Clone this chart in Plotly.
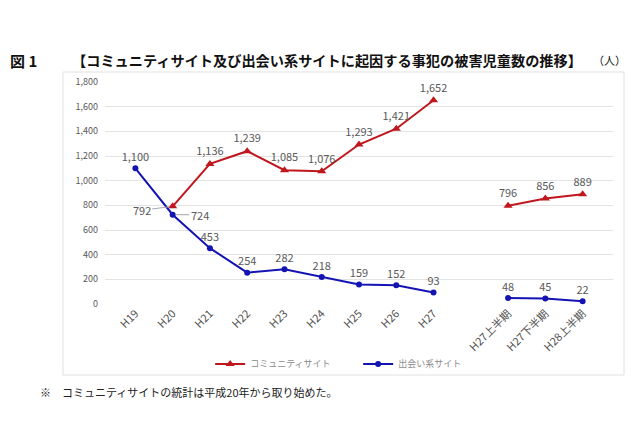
import plotly.graph_objects as go

categories = ["H19", "H20", "H21", "H22", "H23", "H24", "H25", "H26", "H27", " ",
              "H27上半期", "H27下半期", "H28上半期"]
community = [None, 792, 1136, 1239, 1085, 1076, 1293, 1421, 1652, None, 796, 856, 889]
deai = [1100, 724, 453, 254, 282, 218, 159, 152, 93, None, 48, 45, 22]
y_ticks = [0, 200, 400, 600, 800, 1000, 1200, 1400, 1600, 1800]

# labels drawn with a short leader line instead of directly above the point
leader_community = {1: (-31, 4)}
leader_deai = {1: (27, 0)}

def fmt(v):
    return "" if v is None else f"{v:,}"

FONT = "Noto Sans CJK JP"
LABEL_COLOR = "#595959"

fig = go.Figure()
fig.add_trace(go.Scatter(
    x=categories, y=community, name="コミュニティサイト",
    mode="lines+markers+text",
    text=["" if i in leader_community else fmt(v) for i, v in enumerate(community)],
    textposition="top center", textfont=dict(size=11, color=LABEL_COLOR),
    line=dict(color="#C0161D", width=2),
    marker=dict(symbol="triangle-up", size=8, color="#C0161D"),
    connectgaps=False, cliponaxis=False,
))
fig.add_trace(go.Scatter(
    x=categories, y=deai, name="出会い系サイト",
    mode="lines+markers+text",
    text=["" if i in leader_deai else fmt(v) for i, v in enumerate(deai)],
    textposition="top center", textfont=dict(size=11, color=LABEL_COLOR),
    line=dict(color="#1414B4", width=2),
    marker=dict(symbol="circle", size=6, color="#1414B4"),
    connectgaps=False, cliponaxis=False,
))

annotations = [
    dict(text="<b>図 1</b>", xref="paper", yref="paper", x=-0.191, y=1.099,
         xanchor="left", yanchor="middle", showarrow=False,
         font=dict(size=15, color="#111111", family=FONT)),
    dict(text="<b>【コミュニティサイト及び出会い系サイトに起因する事犯の被害児童数の推移】</b>",
         xref="paper", yref="paper", x=-0.069, y=1.099,
         xanchor="left", yanchor="middle", showarrow=False,
         font=dict(size=14.2, color="#111111", family=FONT)),
    dict(text="（人）", xref="paper", yref="paper", x=1.03, y=1.099,
         xanchor="right", yanchor="middle", showarrow=False,
         font=dict(size=11, color="#111111", family=FONT)),
    dict(text="※　コミュニティサイトの統計は平成20年から取り始めた。",
         xref="paper", yref="paper", x=-0.132, y=-0.396,
         xanchor="left", yanchor="middle", showarrow=False,
         font=dict(size=11, color="#222222", family=FONT)),
]
for series, leaders in ((community, leader_community), (deai, leader_deai)):
    for i, (ax, ay) in leaders.items():
        annotations.append(dict(
            x=categories[i], y=series[i], xref="x", yref="y", text=fmt(series[i]),
            showarrow=True, arrowhead=0, arrowwidth=1, arrowcolor="#a6a6a6",
            ax=ax, ay=ay, standoff=3, startstandoff=0,
            font=dict(size=11, color=LABEL_COLOR, family=FONT)))

fig.update_layout(
    width=640, height=426,
    margin=dict(l=97, r=35, t=74, b=130, autoexpand=False),
    paper_bgcolor="white", plot_bgcolor="white",
    font=dict(family=FONT, color=LABEL_COLOR, size=10),
    showlegend=True,
    legend=dict(orientation="h", x=0.207, xanchor="left", y=-0.27, yanchor="middle",
                font=dict(size=9, color="#8c8c8c"), entrywidth=103,
                bgcolor="rgba(0,0,0,0)"),
    xaxis=dict(type="category", categoryorder="array", categoryarray=categories,
               tickangle=-45, tickfont=dict(size=11, color="#505050"),
               showgrid=False, showline=False, ticks="", automargin=False),
    yaxis=dict(range=[0, 1800], tickvals=y_ticks,
               ticktext=[f"{v:,}" for v in y_ticks],
               tickfont=dict(size=9, color=LABEL_COLOR),
               gridcolor="#e3e3e3", gridwidth=1, zeroline=False,
               showline=False, ticks="", ticklabelstandoff=6, automargin=False),
    shapes=[dict(type="rect", xref="paper", yref="paper",
                 x0=-0.0827, x1=1.0217, y0=-0.32, y1=1.045,
                 line=dict(color="#e0e0e0", width=1))],
    annotations=annotations,
)

fig.write_html("out.html")
